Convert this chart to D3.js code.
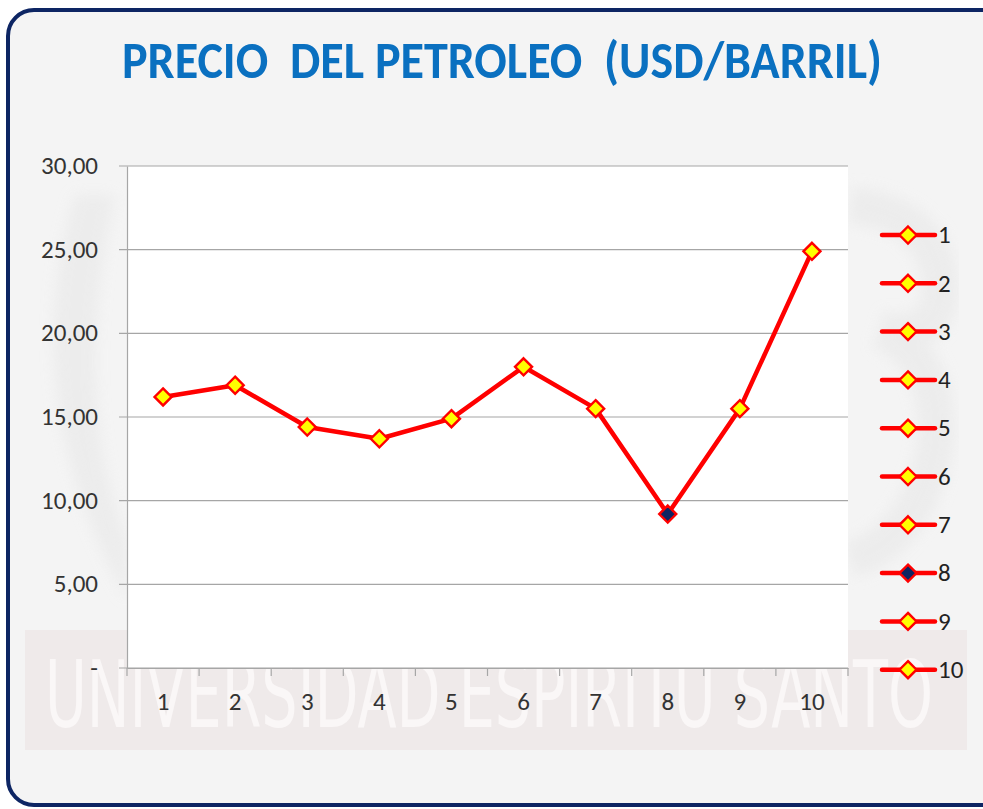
<!DOCTYPE html>
<html><head><meta charset="utf-8">
<script src="https://cdn.jsdelivr.net/npm/d3@7"></script>
<style>body{margin:0;background:#fff;}svg{display:block;}</style>
</head><body>
<script>
const categories = ["1","2","3","4","5","6","7","8","9","10"];
const values = [16.2, 16.9, 14.4, 13.7, 14.9, 18.0, 15.5, 9.2, 15.5, 24.9];
const yTicks = [0, 5, 10, 15, 20, 25, 30];
const yTickLabels = ["-", "5,00", "10,00", "15,00", "20,00", "25,00", "30,00"];
const title = "PRECIO  DEL PETROLEO  (USD/BARRIL)";
const watermark = "UNIVERSIDAD ESPIRITU SANTO";

const W = 983, H = 809;
const svg = d3.select("body").append("svg").attr("width", W).attr("height", H);
const font = "Carlito, Calibri, 'Open Sans', 'Liberation Sans', sans-serif";

const defs = svg.append("defs");
defs.append("filter").attr("id", "blur").attr("x", "-20%").attr("y", "-20%").attr("width", "140%").attr("height", "140%")
  .append("feGaussianBlur").attr("stdDeviation", 7);

// frame
svg.append("rect").attr("x", 8).attr("y", 10).attr("width", 1000).attr("height", 795)
  .attr("rx", 26).attr("fill", "#f4f4f4").attr("stroke", "#0d2563").attr("stroke-width", 4);

// faint logo shapes (background watermark)
svg.append("path").attr("d", "M75,195 Q15,400 127,600 L127,540 Q70,400 115,195 Z")
  .attr("fill", "#e9e9e9").attr("filter", "url(#blur)").attr("opacity", 0.7);
svg.append("path").attr("d", "M850,205 Q945,215 940,300 Q930,340 880,330 M880,330 Q945,360 935,450 Q915,540 850,560")
  .attr("fill", "none").attr("stroke", "#e9e9e9").attr("stroke-width", 36).attr("filter", "url(#blur)").attr("opacity", 0.7);
// watermark band
svg.append("rect").attr("x", 25).attr("y", 630).attr("width", 942).attr("height", 120).attr("fill", "#efeaea");
svg.append("text").attr("x", 45).attr("y", 727).attr("textLength", 888).attr("lengthAdjust", "spacingAndGlyphs")
  .attr("font-family", "'Liberation Sans Narrow', 'DejaVu Sans Condensed', sans-serif").attr("font-size", 92)
  .attr("fill", "#faf7f7").text(watermark);

// title
svg.append("text").attr("x", 502).attr("y", 78).attr("text-anchor", "middle")
  .style("white-space", "pre")
  .attr("textLength", 760).attr("lengthAdjust", "spacingAndGlyphs")
  .attr("font-family", font).attr("font-weight", "bold").attr("font-size", 52)
  .attr("fill", "#0a70c0").text(title);

const L = 127, R = 848, T = 166, B = 668;
const x = d3.scaleBand().domain(categories).range([L, R]);
const y = d3.scaleLinear().domain([0, 30]).range([B, T]);

svg.append("rect").attr("x", L).attr("y", T).attr("width", R - L).attr("height", B - T).attr("fill", "#ffffff");

// gridlines
svg.append("g").selectAll("line").data(yTicks).join("line")
  .attr("x1", L - 8).attr("x2", R).attr("y1", d => y(d)).attr("y2", d => y(d))
  .attr("stroke", "#a6a6a6").attr("stroke-width", 1.2);

// y axis
const yAxis = d3.axisLeft(y).tickValues(yTicks).tickSize(0).tickPadding(29)
  .tickFormat(d => yTickLabels[yTicks.indexOf(d)]);
const gy = svg.append("g").attr("transform", `translate(${L},0)`).call(yAxis);
gy.select(".domain").attr("stroke", "#a6a6a6").attr("stroke-width", 1.2);
gy.selectAll("text").attr("font-family", font).attr("font-size", 25).attr("fill", "#333").attr("dy", "0.3em");

// x axis
const gx = svg.append("g").attr("transform", `translate(0,${B})`)
  .call(d3.axisBottom(x).tickSize(0).tickPadding(24));
gx.select(".domain").attr("stroke", "#a6a6a6").attr("stroke-width", 1.2);
gx.selectAll("text").attr("font-family", font).attr("font-size", 25).attr("fill", "#333");
const bounds = categories.map(c => x(c)).concat([R]);
gx.append("g").selectAll("line").data(bounds).join("line")
  .attr("x1", d => d).attr("x2", d => d).attr("y1", 0).attr("y2", 8)
  .attr("stroke", "#a6a6a6").attr("stroke-width", 1.2);

// line
const cx = (d, i) => x(categories[i]) + x.bandwidth() / 2;
svg.append("path").datum(values)
  .attr("d", d3.line().x(cx).y(d => y(d)))
  .attr("fill", "none").attr("stroke", "#ff0000").attr("stroke-width", 4.5).attr("stroke-linejoin", "round");

const diamond = d3.symbol().type(d3.symbolDiamond2).size(185);
const fillFor = i => i === 7 ? "#0f2462" : "#ffff00";
svg.append("g").selectAll("path").data(values).join("path")
  .attr("d", diamond)
  .attr("transform", (d, i) => `translate(${cx(d, i)},${y(d)})`)
  .attr("fill", (d, i) => fillFor(i)).attr("stroke", "#ff0000").attr("stroke-width", 2.4);

// legend
const leg = svg.append("g").selectAll("g").data(categories).join("g")
  .attr("transform", (d, i) => `translate(908,${235 + i * 48.3})`);
leg.append("line").attr("x1", -26).attr("x2", 27).attr("stroke", "#ff0000").attr("stroke-width", 4.5).attr("stroke-linecap", "round");
leg.append("path").attr("d", diamond).attr("fill", (d, i) => fillFor(i)).attr("stroke", "#ff0000").attr("stroke-width", 2.4);
leg.append("text").attr("x", 30).attr("dy", "0.33em").attr("font-family", font).attr("font-size", 25)
  .attr("fill", "#222").text(d => d);
</script>
</body></html>
